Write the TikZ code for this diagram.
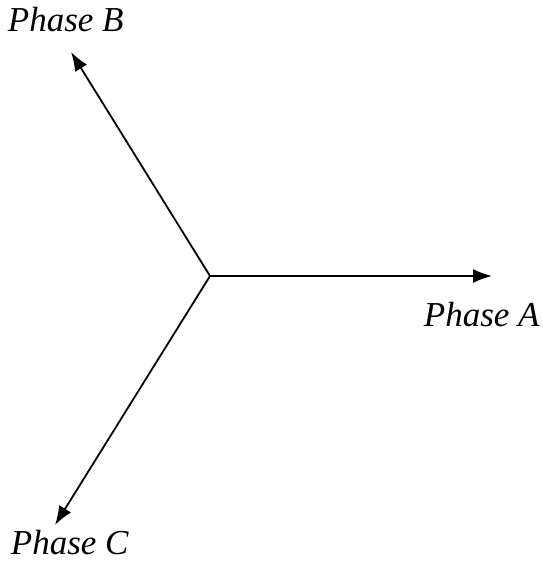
\documentclass[tikz,border=0pt]{standalone}
\usepackage{fontspec}
\setmainfont{Liberation Serif}
\usetikzlibrary{arrows.meta}
\tikzset{phase/.style={anchor=base west,inner sep=0pt,text depth=0pt,font=\fontsize{35}{42}\selectfont\itshape}}
\begin{document}
\begin{tikzpicture}[x=1pt,y=-1pt,line width=1.8pt,>={Latex[length=19pt,width=14pt]}]
\useasboundingbox (0,0) rectangle (542,562);
\coordinate (O) at (210,276);
\coordinate (a) at (492,276);
\coordinate (b) at (71,52);
\coordinate (c) at (55,525);
\draw[->] (O) -- (a);
\draw[->] (O) -- (b);
\draw[->] (O) -- (c);
\node[phase] (pa) at (423,326) {Phase A};
\node[phase] (pb) at (7,31) {Phase B};
\node[phase] (pc) at (10,554) {Phase C};
\end{tikzpicture}
\end{document}
